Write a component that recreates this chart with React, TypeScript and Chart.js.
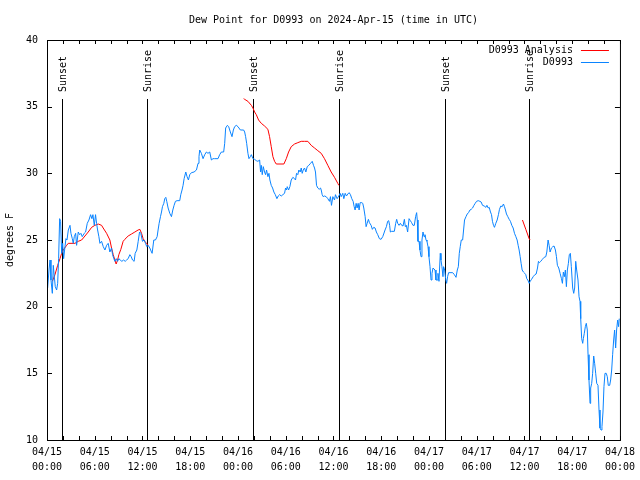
import { useEffect, useRef } from "react";
import { Chart, registerables } from "chart.js";

Chart.register(...registerables);

const TITLE = "Dew Point for D0993 on 2024-Apr-15 (time in UTC)";
const Y_TITLE = "degrees F";
const SERIES_NAMES = ["D0993 Analysis", "D0993"];
const X_TICK_DAYS = ["04/15", "04/15", "04/15", "04/15", "04/16", "04/16", "04/16", "04/16", "04/17", "04/17", "04/17", "04/17", "04/18"];
const X_TICK_TIMES = ["00:00", "06:00", "12:00", "18:00", "00:00", "06:00", "12:00", "18:00", "00:00", "06:00", "12:00", "18:00", "00:00"];
const SUN_EVENT_LABELS = ["Sunset", "Sunrise", "Sunset", "Sunrise", "Sunset", "Sunrise"];
const SUN_EVENT_HOURS = [1.92, 12.58, 25.88, 36.67, 49.97, 60.63];
const SUN_LINE_TOP = 35.6;

// hours since 2024-04-15 00:00 UTC
const BLUE_HOURS = [
  0.08, 0.25, 0.38, 0.5, 0.67, 0.79, 0.92, 1.04, 1.21, 1.34, 1.46, 1.59, 1.71, 1.84, 1.97, 2.09, 2.26, 2.38, 2.51, 2.68,
  2.89, 3.01, 3.18, 3.3, 3.43, 3.6, 3.72, 3.93, 4.1, 4.26, 4.43, 4.68, 4.85, 5.06, 5.27, 5.48, 5.64, 5.77, 5.94, 6.1,
  6.23, 6.36, 6.52, 6.65, 6.86, 7.07, 7.28, 7.49, 7.69, 7.9, 8.11, 8.24, 8.4, 8.53, 8.7, 8.87, 9.03, 9.2, 9.41, 9.62,
  9.83, 10.0, 10.2, 10.41, 10.58, 10.75, 10.95, 11.08, 11.29, 11.46, 11.63, 11.79, 12.0, 12.2, 12.38, 12.54, 12.71, 12.92, 13.13, 13.21,
  13.42, 13.63, 13.84, 13.96, 14.09, 14.26, 14.39, 14.51, 14.68, 14.8, 14.93, 15.05, 15.22, 15.43, 15.64, 15.81, 15.97, 16.14, 16.35, 16.68,
  16.81, 16.97, 17.1, 17.23, 17.44, 17.6, 17.77, 17.94, 18.15, 18.48, 18.78, 18.98, 19.1, 19.19, 19.4, 19.61, 19.82, 20.03, 20.23, 20.45,
  20.66, 20.86, 21.07, 21.49, 21.7, 21.91, 22.2, 22.33, 22.45, 22.67, 22.83, 23.04, 23.25, 23.42, 23.58, 23.79, 24.0, 24.3, 24.71, 24.84,
  24.96, 25.09, 25.25, 25.38, 25.55, 25.68, 25.88, 26.09, 26.3, 26.5, 26.72, 26.84, 26.93, 27.05, 27.18, 27.34, 27.47, 27.59, 27.76, 27.89,
  28.01, 28.18, 28.35, 28.51, 28.69, 28.89, 29.06, 29.23, 29.44, 29.64, 29.85, 29.98, 30.1, 30.19, 30.36, 30.52, 30.69, 30.9, 31.11, 31.23,
  31.36, 31.52, 31.65, 31.82, 31.95, 32.07, 32.2, 32.36, 32.53, 32.7, 32.9, 33.12, 33.33, 33.49, 33.62, 33.74, 33.87, 34.03, 34.2, 34.37,
  34.46, 34.58, 34.71, 34.87, 35.08, 35.29, 35.5, 35.62, 35.75, 35.92, 36.13, 36.25, 36.46, 36.67, 36.84, 36.97, 37.17, 37.3, 37.47, 37.63,
  37.8, 37.97, 38.13, 38.3, 38.47, 38.6, 38.72, 38.85, 38.97, 39.1, 39.22, 39.35, 39.56, 39.68, 39.81, 39.98, 40.1, 40.23, 40.39, 40.52,
  40.73, 40.89, 41.06, 41.23, 41.39, 41.56, 41.77, 41.98, 42.19, 42.31, 42.48, 42.65, 42.81, 42.94, 43.06, 43.15, 43.31, 43.65, 43.82, 43.94,
  44.07, 44.24, 44.41, 44.57, 44.74, 44.91, 45.03, 45.16, 45.32, 45.5, 45.66, 45.82, 45.99, 46.16, 46.32, 46.45, 46.53, 46.62, 46.75, 46.87,
  47.0, 47.12, 47.25, 47.38, 47.5, 47.63, 47.75, 47.88, 48.0, 48.13, 48.26, 48.38, 48.51, 48.63, 48.76, 48.88, 49.01, 49.13, 49.26, 49.42,
  49.51, 49.63, 49.76, 49.84, 49.97, 50.09, 50.22, 50.34, 50.47, 50.77, 50.98, 51.19, 51.4, 51.56, 51.69, 51.81, 51.93, 52.06, 52.23, 52.35,
  52.47, 52.65, 52.81, 52.97, 53.15, 53.31, 53.48, 53.65, 53.81, 53.98, 54.19, 54.4, 54.56, 54.73, 54.94, 55.15, 55.28, 55.44, 55.57, 55.73,
  55.86, 55.98, 56.11, 56.23, 56.4, 56.57, 56.73, 56.86, 57.03, 57.2, 57.36, 57.49, 57.61, 57.74, 57.91, 58.08, 58.24, 58.41, 58.58, 58.75,
  58.92, 59.08, 59.21, 59.33, 59.46, 59.58, 59.71, 59.87, 60.04, 60.17, 60.29, 60.42, 60.6, 60.72, 60.89, 61.1, 61.31, 61.47, 61.64, 61.76,
  61.88, 62.05, 62.25, 62.47, 62.68, 62.81, 62.97, 63.1, 63.22, 63.39, 63.56, 63.72, 63.89, 64.02, 64.14, 64.31, 64.48, 64.65, 64.77, 64.89,
  65.02, 65.14, 65.27, 65.39, 65.52, 65.64, 65.77, 65.89, 66.06, 66.19, 66.31, 66.44, 66.56, 66.73, 66.86, 66.98, 67.07, 67.19, 67.32, 67.4,
  67.52, 67.65, 67.77, 67.9, 67.99, 68.11, 68.24, 68.32, 68.45, 68.57, 68.7, 68.82, 68.95, 69.08, 69.24, 69.37, 69.49, 69.62, 69.74, 69.87,
  69.99, 70.12, 70.28, 70.41, 70.53, 70.71, 70.83, 70.96, 71.08, 71.21, 71.33, 71.46, 71.58, 71.71, 71.83, 71.91,
];

const BLUE_DEWPOINT_F = [
  21.4, 22.75, 23.5, 22.0, 21.0, 23.1, 22.25, 21.5, 21.25, 21.75, 23.6, 26.6, 26.4, 24.0, 24.75, 23.6, 24.5, 25.1, 25.0, 25.75,
  26.1, 25.5, 25.1, 24.75, 25.25, 25.5, 24.6, 25.6, 25.4, 25.5, 25.25, 25.5, 25.6, 26.25, 26.5, 26.9, 26.6, 26.9, 26.1, 26.9,
  26.25, 25.75, 25.25, 24.75, 24.9, 24.5, 24.25, 24.6, 24.75, 24.1, 24.4, 23.9, 23.6, 23.4, 23.6, 23.4, 23.6, 23.5, 23.4, 23.5,
  23.4, 23.5, 23.6, 23.9, 23.75, 23.5, 23.4, 24.0, 24.25, 24.9, 25.6, 25.5, 24.9, 25.0, 24.75, 24.5, 24.6, 24.4, 24.1, 24.0,
  25.0, 25.0, 25.25, 25.75, 26.25, 26.75, 27.1, 27.5, 27.75, 28.1, 28.2, 27.9, 27.4, 27.0, 26.75, 27.25, 27.6, 27.9, 27.95, 27.95,
  28.4, 28.75, 29.1, 29.6, 30.1, 29.75, 29.5, 29.9, 30.05, 30.1, 30.25, 30.75, 31.25, 31.75, 31.5, 31.1, 31.4, 31.6, 31.5, 31.6,
  31.0, 31.1, 31.1, 31.1, 31.4, 31.6, 31.6, 32.25, 33.4, 33.6, 33.5, 33.1, 32.75, 33.25, 33.5, 33.6, 33.5, 33.25, 33.25, 33.1,
  32.75, 32.25, 31.5, 31.1, 31.25, 31.4, 31.1, 31.05, 30.95, 30.9, 31.0, 30.1, 30.6, 29.9, 30.5, 30.1, 29.9, 30.25, 29.75, 30.0,
  29.5, 29.1, 28.9, 28.6, 28.4, 28.1, 28.3, 28.4, 28.3, 28.4, 28.5, 28.9, 28.75, 29.0, 28.75, 29.0, 29.5, 29.7, 29.6, 29.5,
  30.0, 29.9, 30.25, 30.1, 30.4, 30.0, 30.25, 30.4, 30.1, 30.5, 30.6, 30.75, 30.9, 30.6, 30.4, 30.1, 29.1, 28.9, 28.8, 28.9,
  28.75, 28.4, 28.25, 28.3, 28.25, 28.1, 27.9, 28.25, 27.6, 28.25, 28.0, 28.4, 28.1, 28.3, 28.5, 28.25, 28.5, 28.1, 28.5, 28.3,
  28.45, 28.55, 28.4, 28.1, 27.9, 27.5, 27.25, 27.75, 27.4, 27.75, 27.25, 27.8, 27.8, 27.75, 27.4, 26.75, 26.0, 26.25, 26.55, 26.3,
  26.1, 25.8, 25.95, 25.9, 25.6, 25.4, 25.1, 25.05, 25.25, 25.45, 25.75, 26.0, 26.4, 26.45, 26.1, 25.6, 25.65, 25.65, 26.25, 26.55,
  26.25, 26.1, 26.25, 26.1, 26.05, 26.55, 26.0, 26.1, 25.6, 26.6, 26.45, 26.3, 26.1, 26.1, 26.75, 27.05, 26.5, 24.9, 24.9, 24.25,
  23.75, 25.0, 25.6, 25.25, 25.4, 25.0, 24.9, 24.5, 23.75, 23.0, 22.0, 22.5, 22.9, 22.9, 22.75, 22.0, 22.0, 22.5, 21.9, 24.0,
  23.5, 23.0, 22.25, 23.0, 22.75, 22.1, 21.75, 22.25, 22.55, 22.55, 22.55, 22.4, 22.2, 22.75, 23.0, 24.0, 24.5, 25.0, 25.0, 25.75,
  26.5, 26.75, 26.95, 27.05, 27.25, 27.3, 27.4, 27.6, 27.75, 27.9, 27.95, 27.9, 27.85, 27.6, 27.55, 27.45, 27.6, 27.4, 27.45, 27.1,
  26.9, 26.4, 26.1, 25.95, 26.25, 26.5, 26.9, 27.3, 27.55, 27.5, 27.7, 27.5, 27.25, 26.95, 26.75, 26.55, 26.4, 26.1, 25.9, 25.5,
  25.25, 25.0, 24.6, 24.25, 23.75, 23.25, 22.75, 22.6, 22.5, 22.4, 22.1, 22.0, 21.75, 21.9, 22.05, 22.25, 22.4, 22.45, 22.9, 23.4,
  23.3, 23.4, 23.55, 23.7, 23.75, 24.1, 25.0, 24.6, 24.1, 24.4, 24.5, 24.55, 24.25, 23.75, 23.1, 22.9, 22.5, 22.1, 21.75, 22.6,
  22.25, 22.75, 21.5, 22.75, 23.25, 23.9, 24.0, 23.0, 21.4, 21.0, 21.4, 23.4, 22.75, 22.0, 20.75, 20.4, 19.1, 17.6, 17.25, 17.6,
  18.0, 18.5, 18.75, 18.25, 16.4, 14.5, 12.75, 13.9, 14.25, 15.0, 16.3, 15.75, 15.0, 14.25, 14.1, 12.25, 10.9, 10.75, 11.0, 12.1,
  14.0, 15.0, 15.0, 14.75, 14.1, 14.1, 14.5, 15.25, 16.4, 17.5, 18.25, 16.9, 18.25, 19.0, 18.5, 19.1,
];

// analysis series; null marks a break in the line
const RED_HOURS = [
  0.67, 1.0, 1.34, 1.63, 1.84, 2.04, 2.47, 2.67, 3.51, 3.93, 4.35, 4.77, 5.18, 5.61, 6.02, 6.44, 6.86, 7.06, 7.49, 7.9,
  8.11, 8.32, 8.53, 8.69, 8.87, 9.03, 9.28, 9.57, 9.78, 10.2, 10.62, 11.04, 11.45, 11.67, 11.88, 12.08, 12.29, 12.5, 12.71,
  18.0,
  24.71, 24.84, 25.25, 25.68, 25.88, 26.09, 26.3, 26.59, 26.93, 27.34, 27.76, 27.97, 28.18, 28.39, 28.6, 28.81, 29.77, 30.07, 30.36, 30.69,
  31.11, 31.52, 31.95, 32.36, 32.78, 33.2, 33.62, 34.03, 34.46, 34.87, 35.29, 35.71, 36.13, 36.54, 36.67,
  48.0,
  59.75, 60.17, 60.59, 60.71,
];

const RED_DEWPOINT_F: (number | null)[] = [
  21.9, 22.4, 23.1, 23.6, 24.0, 24.25, 24.6, 24.75, 24.75, 24.9, 25.0, 25.3, 25.6, 25.95, 26.1, 26.2, 26.1, 25.9, 25.5, 25.0,
  24.4, 23.9, 23.5, 23.2, 23.5, 23.9, 24.3, 24.9, 25.05, 25.3, 25.45, 25.6, 25.75, 25.8, 25.5, 25.1, 24.9, 24.75, 24.6,
  null,
  35.6, 35.55, 35.4, 35.1, 34.9, 34.6, 34.4, 34.0, 33.75, 33.55, 33.3, 32.75, 32.0, 31.25, 30.9, 30.7, 30.7, 31.1, 31.6, 32.0,
  32.2, 32.3, 32.4, 32.4, 32.4, 32.1, 31.9, 31.7, 31.5, 31.1, 30.6, 30.1, 29.7, 29.25, 29.1,
  null,
  26.5, 25.8, 25.1, 25.0,
];

const RED = "#ff0000";
const BLUE = "#0a84ff";
const FONT = "'DejaVu Sans Mono', 'Liberation Mono', monospace";

Chart.defaults.font.family = FONT;
Chart.defaults.font.size = 10;
Chart.defaults.color = "#000";

const gnuplotLook = {
  id: "gnuplotLook",
  beforeDraw(chart: any) {
    const { ctx, width, height } = chart;
    ctx.save();
    ctx.fillStyle = "#fff";
    ctx.fillRect(0, 0, width, height);
    ctx.restore();
  },
  beforeDatasetsDraw(chart: any) {
    const { ctx, chartArea } = chart;
    const xs = chart.scales.x;
    const ys = chart.scales.y;
    ctx.save();
    ctx.strokeStyle = "#000";
    ctx.lineWidth = 1;
    ctx.fillStyle = "#000";
    ctx.font = `10px ${FONT}`;
    const yTop = Math.round(ys.getPixelForValue(SUN_LINE_TOP));
    SUN_EVENT_HOURS.forEach((h, i) => {
      const px = Math.round(xs.getPixelForValue(h)) + 0.5;
      ctx.beginPath();
      ctx.moveTo(px, yTop);
      ctx.lineTo(px, chartArea.bottom);
      ctx.stroke();
      ctx.save();
      ctx.translate(px + 1, yTop - 7);
      ctx.rotate(-Math.PI / 2);
      ctx.textAlign = "left";
      ctx.textBaseline = "middle";
      ctx.fillText(SUN_EVENT_LABELS[i], 0, 0);
      ctx.restore();
    });
    ctx.restore();
  },
  afterDatasetsDraw(chart: any) {
    const { ctx, chartArea } = chart;
    const { left, right, top, bottom } = chartArea;
    const xs = chart.scales.x;
    const ys = chart.scales.y;
    ctx.save();
    ctx.strokeStyle = "#000";
    ctx.lineWidth = 1;
    ctx.strokeRect(left + 0.5, top + 0.5, right - left, bottom - top);
    ctx.beginPath();
    for (let h = 0; h <= 72; h += 2) {
      const px = Math.round(xs.getPixelForValue(h)) + 0.5;
      ctx.moveTo(px, bottom);
      ctx.lineTo(px, bottom - 4);
      ctx.moveTo(px, top);
      ctx.lineTo(px, top + 4);
    }
    for (let v = 10; v <= 40; v += 5) {
      const py = Math.round(ys.getPixelForValue(v)) + 0.5;
      ctx.moveTo(left, py);
      ctx.lineTo(left + 5, py);
      ctx.moveTo(right, py);
      ctx.lineTo(right - 5, py);
    }
    ctx.stroke();

    ctx.fillStyle = "#000";
    ctx.font = `10px ${FONT}`;
    ctx.textAlign = "center";
    ctx.textBaseline = "middle";
    ctx.fillText(TITLE, (left + right) / 2, 20);

    ctx.save();
    ctx.translate(10, (top + bottom) / 2);
    ctx.rotate(-Math.PI / 2);
    ctx.fillText(Y_TITLE, 0, 0);
    ctx.restore();

    const colors = [RED, BLUE];
    SERIES_NAMES.forEach((name, i) => {
      const y = top + 10 + i * 12;
      ctx.textAlign = "right";
      ctx.fillStyle = "#000";
      ctx.fillText(name, right - 47, y);
      ctx.strokeStyle = colors[i];
      ctx.beginPath();
      ctx.moveTo(right - 39, y + 0.5);
      ctx.lineTo(right - 11, y + 0.5);
      ctx.stroke();
    });
    ctx.restore();
  },
};

export default function App() {
  const ref = useRef<HTMLCanvasElement>(null);
  useEffect(() => {
    const canvas = ref.current;
    if (!canvas) return;
    const chart = new Chart(canvas, {
      type: "line",
      data: {
        datasets: [
          {
            label: SERIES_NAMES[0],
            data: RED_HOURS.map((h, i) => ({ x: h, y: RED_DEWPOINT_F[i] })) as any,
            borderColor: RED,
            borderWidth: 1,
            pointRadius: 0,
            tension: 0,
            spanGaps: false,
            order: 2,
          },
          {
            label: SERIES_NAMES[1],
            data: BLUE_HOURS.map((h, i) => ({ x: h, y: BLUE_DEWPOINT_F[i] })),
            borderColor: BLUE,
            borderWidth: 1,
            pointRadius: 0,
            tension: 0,
            order: 1,
          },
        ],
      },
      options: {
        animation: false,
        responsive: false,
        devicePixelRatio: 1,
        events: [],
        layout: { padding: { top: 40, right: 19, bottom: 0, left: 0 } },
        plugins: {
          legend: { display: false },
          title: { display: false },
          tooltip: { enabled: false },
        },
        scales: {
          x: {
            type: "linear",
            min: 0,
            max: 72,
            grid: { display: false, drawTicks: false },
            border: { display: false },
            ticks: {
              stepSize: 6,
              autoSkip: false,
              maxRotation: 0,
              minRotation: 0,
              padding: 5,
              color: "#000",
              font: { family: FONT, size: 10, lineHeight: 1.5 },
              callback: (v: any) => {
                const i = Math.round(Number(v) / 6);
                return [X_TICK_DAYS[i], X_TICK_TIMES[i]];
              },
            },
            afterFit: (s: any) => {
              s.height = 40;
            },
          },
          y: {
            type: "linear",
            min: 10,
            max: 40,
            grid: { display: false, drawTicks: false },
            border: { display: false },
            ticks: {
              stepSize: 5,
              padding: 9,
              color: "#000",
              font: { family: FONT, size: 10 },
            },
            afterFit: (s: any) => {
              s.width = 47;
            },
          },
        },
      },
      plugins: [gnuplotLook],
    });
    return () => chart.destroy();
  }, []);
  return (
    <div style={{ position: "absolute", left: 0, top: 0, width: 640, height: 480 }}>
      <canvas ref={ref} width={640} height={480} style={{ display: "block" }} />
    </div>
  );
}
